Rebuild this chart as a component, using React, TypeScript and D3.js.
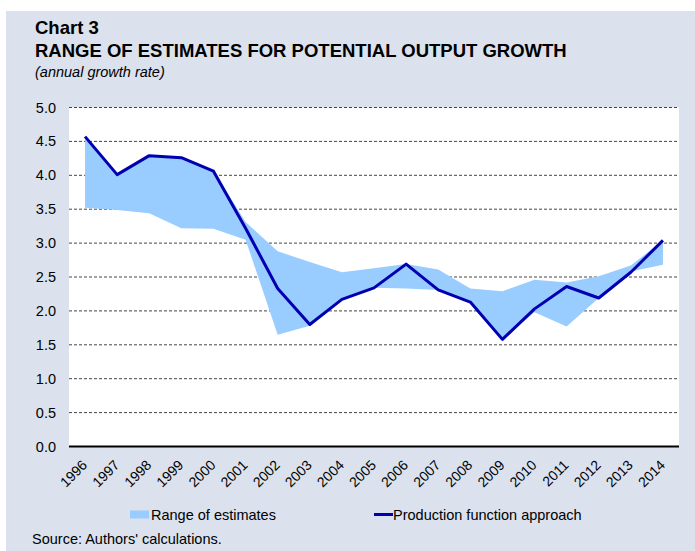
import React from "react";
import * as d3 from "d3";

const years = ["1996","1997","1998","1999","2000","2001","2002","2003","2004","2005","2006","2007","2008","2009","2010","2011","2012","2013","2014"];
const productionFunction = [4.57, 4.01, 4.29, 4.26, 4.06, 3.22, 2.33, 1.80, 2.17, 2.34, 2.69, 2.31, 2.13, 1.58, 2.03, 2.36, 2.19, 2.57, 3.04];
const rangeUpper = [4.57, 4.01, 4.30, 4.27, 4.07, 3.31, 2.88, 2.72, 2.57, 2.63, 2.69, 2.61, 2.33, 2.29, 2.46, 2.42, 2.51, 2.67, 3.04];
const rangeLower = [3.52, 3.49, 3.44, 3.22, 3.21, 3.05, 1.65, 1.78, 2.17, 2.34, 2.33, 2.31, 2.13, 1.58, 1.98, 1.77, 2.19, 2.58, 2.68];
const yTicks = [0, 0.5, 1, 1.5, 2, 2.5, 3, 3.5, 4, 4.5, 5];

const W = 695, H = 551;
const plot = { left: 69, right: 679, top: 107.5, bottom: 446.5 };
const FONT = "'Liberation Sans', Arial, sans-serif";

export default function App() {
  const x = d3.scaleBand<string>().domain(years).range([plot.left, plot.right]).padding(0);
  const cx = (i: number) => (x(years[i]) as number) + x.bandwidth() / 2;
  const y = d3.scaleLinear().domain([0, 5]).range([plot.bottom, plot.top]);

  const idx = years.map((_, i) => i);
  const area = d3.area<number>().x((i) => cx(i)).y0((i) => y(rangeLower[i])).y1((i) => y(rangeUpper[i]));
  const line = d3.line<number>().x((i) => cx(i)).y((i) => y(productionFunction[i]));

  return (
    <svg width={W} height={H} style={{ position: "absolute", left: 0, top: 0 }} fontFamily={FONT}>
      <rect x={6} y={11} width={W - 6} height={H - 11} fill="#dbe2ee" />
      <text x={35} y={34} fontSize={18.5} fontWeight="bold" fill="#000">Chart 3</text>
      <text x={35} y={57} fontSize={18.5} fontWeight="bold" fill="#000">RANGE OF ESTIMATES FOR POTENTIAL OUTPUT GROWTH</text>
      <text x={35} y={77} fontSize={14.5} fontStyle="italic" fill="#000">(annual growth rate)</text>

      <rect x={plot.left} y={plot.top} width={plot.right - plot.left} height={plot.bottom - plot.top} fill="#fff" />
      {yTicks.filter((t) => t > 0).map((t) => (
        <line key={t} x1={plot.left} x2={plot.right} y1={y(t)} y2={y(t)} stroke="#444" strokeWidth={1} strokeDasharray="3,2" />
      ))}
      {yTicks.map((t) => (
        <text key={"l" + t} x={56} y={y(t)} dy="0.35em" textAnchor="end" fontSize={14.5} fill="#000">{t.toFixed(1)}</text>
      ))}

      <path d={area(idx) as string} fill="#99ccff" />
      <path d={line(idx) as string} fill="none" stroke="#0000b0" strokeWidth={3} strokeLinejoin="round" />
      <line x1={plot.left} x2={plot.right} y1={y(0)} y2={y(0)} stroke="#000" strokeWidth={2} />

      {years.map((yr, i) => (
        <text key={yr} transform={`translate(${cx(i) + 3},${466}) rotate(-45)`} textAnchor="end" fontSize={14} fill="#000">{yr}</text>
      ))}

      <rect x={130} y={510.5} width={19} height={8} fill="#99ccff" />
      <text x={151} y={520} fontSize={14.5} fill="#000">Range of estimates</text>
      <line x1={374} x2={393} y1={514.5} y2={514.5} stroke="#0000b0" strokeWidth={3} />
      <text x={393} y={520} fontSize={14.5} fill="#000">Production function approach</text>

      <text x={32} y={544} fontSize={14.5} fill="#000">Source: Authors' calculations.</text>
    </svg>
  );
}
